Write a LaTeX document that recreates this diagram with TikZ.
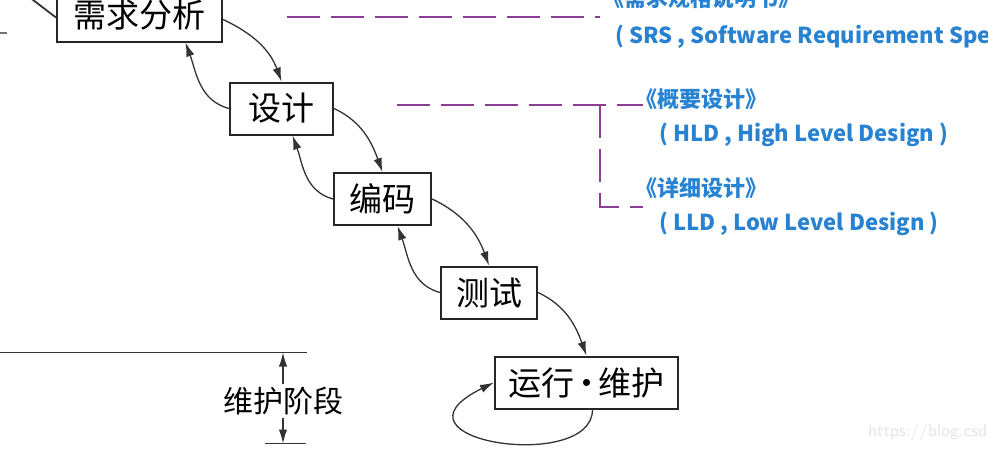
\documentclass[tikz,border=0pt]{standalone}
\usepackage{fontspec}
\usetikzlibrary{arrows.meta,calc}
\newfontfamily\songti{Noto Sans CJK SC}
\newfontfamily\heiti{Noto Sans CJK SC}
\definecolor{pur}{RGB}{140,62,148}
\definecolor{blu}{RGB}{40,130,210}
\tikzset{
  box/.style={draw=black!85, line width=1pt, fill=white, inner sep=0pt,
    minimum height=26pt, font=\songti\fontsize{16.5}{18}\selectfont},
  arr/.style={draw=black!80, line width=0.65pt, -{Latex[length=7pt,width=4.2pt]}},
  plain/.style={draw=black!80, line width=0.9pt},
  dsh/.style={draw=pur, line width=1.4pt, dash pattern=on 16.5pt off 5.5pt},
  note/.style={text=blu, font=\heiti\bfseries\fontsize{11}{13}\selectfont,
    anchor=west, inner sep=0pt},
}
\begin{document}
\begin{tikzpicture}[x=0.5pt,y=-0.5pt]
\clip (0,0) rectangle (988,468);
\fill[white] (0,0) rectangle (988,468);

% boxes
\node[box, minimum width=82.5pt] (req) at (139.5,15.5) {需求分析};
\node[box, minimum width=51.5pt] (des) at (281.5,108.5) {设计};
\node[box, minimum width=48.5pt] (cod) at (382.5,199) {编码};
\node[box, minimum width=48pt]   (tst) at (489,292.5) {测试};
\node[box, minimum width=91.5pt] (run) at (586.5,382.5) {运行\kern-0.15em·\kern-0.15em维护};

% forward arrows
\draw[arr] ([yshift=-2pt]req.east) to[out=-25,in=110] (des.north);
\draw[arr] (des.east) to[out=-25,in=110] (cod.north);
\draw[arr] (cod.east) to[out=-25,in=110] (tst.north);
\draw[arr] (tst.east) to[out=-25,in=110] (run.north);

% backward arrows
\draw[arr] (des.west) to[out=165,in=-70] ([xshift=23pt]req.south);
\draw[arr] (cod.west) to[out=165,in=-70] ([xshift=5.5pt]des.south);
\draw[arr] (tst.west) to[out=165,in=-70] ([xshift=7.5pt]cod.south);

% self loop
\draw[arr] ([xshift=3pt]run.south) .. controls +(0,64) and +(-118,58) .. (run.west);

% left fragments
\coordinate (lt) at (20,-10);
\draw[plain] (lt) -- ([yshift=-1pt]req.west);
\coordinate (tk0) at (0,33); \coordinate (tk1) at (7,33);
\draw[black!55, line width=1pt] (tk0) -- (tk1);

% maintenance phase
\coordinate (hl0) at (0,352.5); \coordinate (hl1) at (307,352.5);
\draw[plain] (hl0) -- (hl1);
\coordinate (bl0) at (265,443.5); \coordinate (bl1) at (306,443.5);
\draw[plain] (bl0) -- (bl1);
\node[font=\songti\fontsize{15}{16}\selectfont, inner sep=1.5pt] (phase) at (283,401) {维护阶段};
\draw[arr] (phase.north) -- (phase.north |- hl1);
\draw[arr] (phase.south) -- (phase.south |- bl1);

% purple dashed leaders
\coordinate (d1a) at (287,17);  \coordinate (d1b) at (600,17);
\draw[dsh] (d1a) -- (d1b);
\coordinate (d2a) at (397,105); \coordinate (d2b) at (643,105);
\draw[dsh] (d2a) -- (d2b);
\coordinate (d3a) at (600,105); \coordinate (d3b) at (600,207); \coordinate (d3c) at (643,207);
\draw[dsh] (d3a) -- (d3b) -- (d3c);

% blue notes
\node[note] (srsT) at (602,-2) {《需求规格说明书》};
\node[note] (srs)  at (615,37) {( SRS , Software Requirement Specification )};
\node[note] (hldT) at (635,99) {《概要设计》};
\node[note] (hld)  at (659,135) {( HLD , High Level Design )};
\node[note] (lldT) at (635,188) {《详细设计》};
\node[note] (lld)  at (659,224) {( LLD , Low Level Design )};

% watermark
\node[text=black!10, font=\sffamily\fontsize{8.5}{10}\selectfont, anchor=west, inner sep=0pt] (wm) at (868,432) {https://blog.csdn.net};
\end{tikzpicture}
\end{document}
